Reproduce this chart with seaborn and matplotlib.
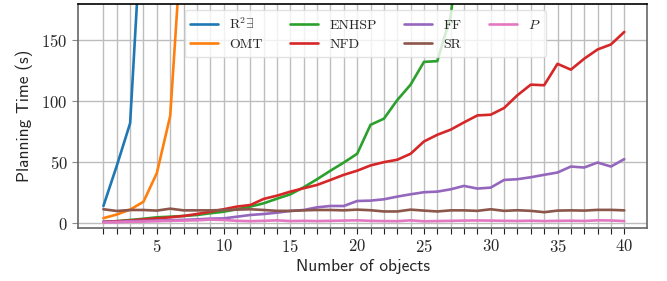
import matplotlib
matplotlib.use('Agg')
import matplotlib.pyplot as plt
import seaborn as sns
import pandas as pd
import numpy as np
from matplotlib.ticker import FixedLocator

# planning times (s) per number of objects
planners = ['R$^2\\exists$', 'OMT', 'ENHSP', 'NFD', 'FF', 'SR', '$P$']
r2e = [14, 47, 82, 275]
omt = [4, 7, 11, 17.5, 41, 88, 256]
enhsp = [1, 1.5, 2.5, 3.5, 4.7, 5.2, 5.8, 6.6, 8, 9.3, 11.3, 13.5, 16.2, 20,
         23.6, 29.4, 36, 43, 49.7, 56.9, 80.7, 85.7, 101, 113.7, 132.4, 133,
         170, 260]
nfd = [1, 1.5, 2, 3, 3.8, 4.7, 5.8, 7.4, 9.3, 11.3, 13.5, 14.8, 19.8, 22.5,
       25.8, 28.6, 31.3, 35.4, 39.6, 43, 47.3, 50, 52, 56.9, 67, 72.5, 76.7,
       82.7, 88.4, 89, 94.5, 105, 113.7, 113.2, 130.8, 126, 135, 142.6, 146.7,
       157]
ff = [1, 1, 1.5, 1.8, 2, 2.3, 2.6, 3, 3.6, 3.8, 5.2, 6.6, 7.4, 8.5, 9.9,
      10.7, 12.9, 14, 14, 18.1, 18.4, 19.5, 21.7, 23.6, 25.3, 25.8, 27.7, 30.5,
      28.3, 29.1, 35.4, 36, 37.6, 39.6, 41.5, 46.4, 45.6, 49.7, 46.4, 52.5]
sr = [11.3, 9.9, 10.7, 10.7, 10.2, 11.8, 10.4, 10.4, 10.4, 10.7, 11, 11.3,
      10.7, 10, 10, 10.4, 10.7, 10.7, 10.4, 11, 10.5, 9.5, 9.5, 11, 10.2, 9.5,
      10.4, 10.4, 10, 11.3, 10, 10.5, 10, 8.9, 10.2, 10.4, 10.2, 10.8, 10.8,
      10.4]
p = [0.5, 0.7, 1, 1.2, 1.5, 1.8, 2, 2.2, 2.8, 2.5, 1.8, 1.5, 1.8, 2.2, 1.6,
     1.8, 1.6, 1.8, 2, 2.2, 1.8, 1.6, 1.5, 2.2, 1.4, 1.6, 1.8, 2, 2.1, 2, 1.8,
     1.7, 1.9, 1.6, 1.8, 1.9, 1.7, 2.2, 2.1, 1.6]
n_objects = list(range(1, 41))
labelled = [5, 10, 15, 20, 25, 30, 35, 40]


def main():
    series = [r2e, omt, enhsp, nfd, ff, sr, p]
    rows = []
    for name, vals in zip(planners, series):
        for n, v in zip(n_objects, vals):
            rows.append((n, v, name))
    df = pd.DataFrame(rows, columns=['objects', 'time', 'planner'])

    sns.set_style('whitegrid')
    plt.rcParams['mathtext.fontset'] = 'cm'
    plt.rcParams['axes.formatter.use_mathtext'] = True

    fig = plt.figure(figsize=(6.67, 2.81), dpi=100)
    ax = fig.add_axes([0.117, 0.189, 0.853, 0.797])
    sns.lineplot(data=df, x='objects', y='time', hue='planner',
                 hue_order=planners, palette='tab10', linewidth=1.9, ax=ax)

    ax.set_xlim(-0.9, 41.7)
    ax.set_ylim(-4, 180)
    ax.xaxis.set_major_locator(FixedLocator(labelled))
    ax.xaxis.set_minor_locator(FixedLocator([n for n in n_objects if n not in labelled]))
    ax.set_yticks([0, 50, 100, 150])
    ax.grid(True, which='both', color='#bdbdbd', linewidth=1)
    ax.tick_params(axis='x', which='both', bottom=True, length=4, width=0.8,
                   color='#222222', direction='out')
    ax.tick_params(axis='y', left=True, length=4, width=0.8, color='#888888')
    for lab in ax.get_xticklabels() + ax.get_yticklabels():
        lab.set_fontfamily('cmr10')
        lab.set_fontsize(12)
    for side in ['left', 'bottom', 'right']:
        ax.spines[side].set_color('#666666')
        ax.spines[side].set_linewidth(1.2)
    ax.spines['top'].set_color('black')
    ax.spines['top'].set_linewidth(1.2)

    ax.set_xlabel('Number of objects', fontfamily='cmss10', fontsize=12.5,
                  labelpad=3)
    ax.set_ylabel('Planning Time (s)', fontfamily='cmss10', fontsize=12.5,
                  labelpad=6)

    ax.legend(ncol=4, loc='upper left', bbox_to_anchor=(0.18, 0.99),
              prop={'family': 'cmr10', 'size': 10}, frameon=True,
              framealpha=0.8, edgecolor='#dddddd', borderaxespad=0.3)

    fig.savefig('out.png', dpi=100)


if __name__ == '__main__':
    main()
